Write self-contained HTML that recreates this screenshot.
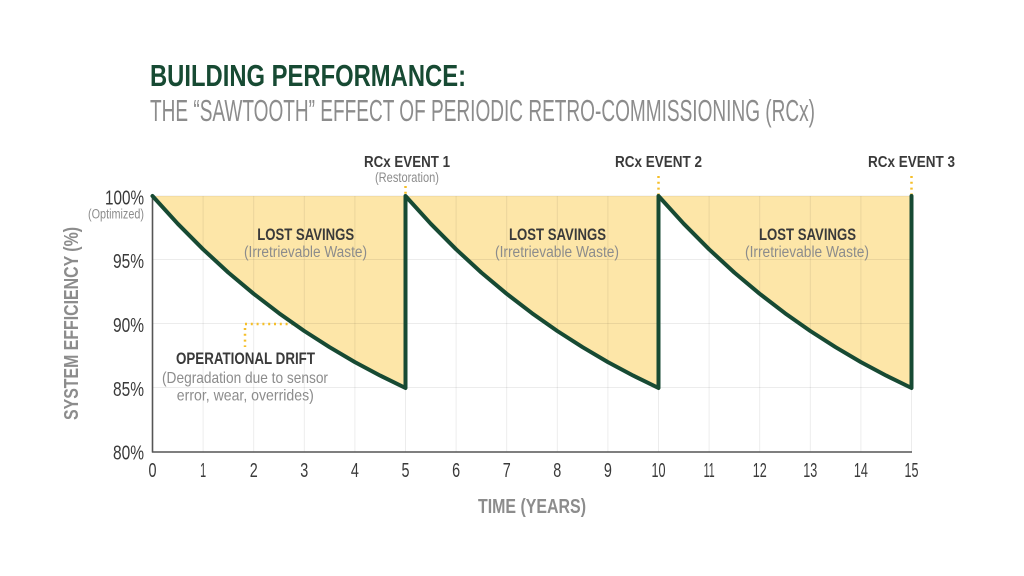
<!DOCTYPE html>
<html>
<head>
<meta charset="utf-8">
<style>
html,body{margin:0;padding:0;background:#ffffff;}
svg{display:block;}
text{font-family:"Liberation Sans Narrow","Liberation Sans",sans-serif;}
</style>
</head>
<body>
<svg width="1024" height="576" viewBox="0 0 1024 576" xmlns="http://www.w3.org/2000/svg">
<rect width="1024" height="576" fill="#ffffff"/>

<!-- Title -->
<text x="150" y="86" font-size="31" font-weight="bold" fill="#174a33" textLength="316" lengthAdjust="spacingAndGlyphs">BUILDING PERFORMANCE:</text>
<text x="150" y="121" font-size="31" fill="#8c8c8c" textLength="665" lengthAdjust="spacingAndGlyphs">THE “SAWTOOTH” EFFECT OF PERIODIC RETRO-COMMISSIONING (RCx)</text>

<!-- Fill areas -->
<g fill="#fde6a8">
<polygon points="152.5,196 405.5,196 405.5,388 380.2,375.6 354.9,362.1 329.6,347.2 304.3,331 279,313.2 253.7,293.8 228.4,272.6 203.1,249.3 177.8,223.8"/>
<polygon points="405.5,196 658.5,196 658.5,388 633.2,375.6 607.9,362.1 582.6,347.2 557.3,331 532,313.2 506.7,293.8 481.4,272.6 456.1,249.3 430.8,223.8"/>
<polygon points="658.5,196 911.5,196 911.5,388 886.2,375.6 860.9,362.1 835.6,347.2 810.3,331 785,313.2 759.7,293.8 734.4,272.6 709.1,249.3 683.8,223.8"/>
</g>

<!-- Gridlines -->
<g stroke="#000000" stroke-opacity="0.075" stroke-width="1">
<line x1="203.1" y1="196" x2="203.1" y2="452"/>
<line x1="253.7" y1="196" x2="253.7" y2="452"/>
<line x1="304.3" y1="196" x2="304.3" y2="452"/>
<line x1="354.9" y1="196" x2="354.9" y2="452"/>
<line x1="405.5" y1="196" x2="405.5" y2="452"/>
<line x1="456.1" y1="196" x2="456.1" y2="452"/>
<line x1="506.7" y1="196" x2="506.7" y2="452"/>
<line x1="557.3" y1="196" x2="557.3" y2="452"/>
<line x1="607.9" y1="196" x2="607.9" y2="452"/>
<line x1="658.5" y1="196" x2="658.5" y2="452"/>
<line x1="709.1" y1="196" x2="709.1" y2="452"/>
<line x1="759.7" y1="196" x2="759.7" y2="452"/>
<line x1="810.3" y1="196" x2="810.3" y2="452"/>
<line x1="860.9" y1="196" x2="860.9" y2="452"/>
<line x1="911.5" y1="196" x2="911.5" y2="452"/>
<line x1="152.5" y1="196" x2="911.5" y2="196"/>
<line x1="152.5" y1="259.5" x2="911.5" y2="259.5"/>
<line x1="152.5" y1="323.5" x2="911.5" y2="323.5"/>
<line x1="152.5" y1="387.5" x2="911.5" y2="387.5"/>
</g>

<!-- Axes -->
<line x1="152.5" y1="196" x2="152.5" y2="452.5" stroke="#555555" stroke-width="1.6"/>
<line x1="152" y1="452" x2="912" y2="452" stroke="#555555" stroke-width="1.6"/>

<!-- Dotted gold annotations -->
<g stroke="#f5bf2a" stroke-width="2.5" stroke-dasharray="2 3.8" fill="none">
<line x1="405.5" y1="186" x2="405.5" y2="195"/>
<line x1="658.5" y1="176" x2="658.5" y2="195"/>
<line x1="911.5" y1="176" x2="911.5" y2="195"/>
<line x1="245" y1="324" x2="296" y2="324"/>
<line x1="245" y1="328" x2="245" y2="347"/>
</g>

<!-- Sawtooth line -->
<polyline fill="none" stroke="#174a33" stroke-width="4" stroke-linejoin="round" stroke-linecap="round"
points="152.5,196 177.8,223.8 203.1,249.3 228.4,272.6 253.7,293.8 279,313.2 304.3,331 329.6,347.2 354.9,362.1 380.2,375.6 405.5,388 405.5,196 430.8,223.8 456.1,249.3 481.4,272.6 506.7,293.8 532,313.2 557.3,331 582.6,347.2 607.9,362.1 633.2,375.6 658.5,388 658.5,196 683.8,223.8 709.1,249.3 734.4,272.6 759.7,293.8 785,313.2 810.3,331 835.6,347.2 860.9,362.1 886.2,375.6 911.5,388 911.5,196"/>

<!-- Y tick labels -->
<g font-size="20" fill="#3a3a3a" text-anchor="end">
<text x="144" y="204.5" textLength="39" lengthAdjust="spacingAndGlyphs">100%</text>
<text x="144" y="268" textLength="31" lengthAdjust="spacingAndGlyphs">95%</text>
<text x="144" y="332" textLength="31" lengthAdjust="spacingAndGlyphs">90%</text>
<text x="144" y="396" textLength="31" lengthAdjust="spacingAndGlyphs">85%</text>
<text x="144" y="459.5" textLength="31" lengthAdjust="spacingAndGlyphs">80%</text>
</g>
<text x="144" y="218.5" font-size="13.5" fill="#8c8c8c" text-anchor="end" textLength="56" lengthAdjust="spacingAndGlyphs">(Optimized)</text>

<!-- X tick labels -->
<g font-size="20" fill="#3a3a3a" text-anchor="middle">
<text x="152.5" y="477" textLength="8" lengthAdjust="spacingAndGlyphs">0</text>
<text x="203.1" y="477" textLength="6" lengthAdjust="spacingAndGlyphs">1</text>
<text x="253.7" y="477" textLength="8" lengthAdjust="spacingAndGlyphs">2</text>
<text x="304.3" y="477" textLength="8" lengthAdjust="spacingAndGlyphs">3</text>
<text x="354.9" y="477" textLength="8" lengthAdjust="spacingAndGlyphs">4</text>
<text x="405.5" y="477" textLength="8" lengthAdjust="spacingAndGlyphs">5</text>
<text x="456.1" y="477" textLength="8" lengthAdjust="spacingAndGlyphs">6</text>
<text x="506.7" y="477" textLength="8" lengthAdjust="spacingAndGlyphs">7</text>
<text x="557.3" y="477" textLength="8" lengthAdjust="spacingAndGlyphs">8</text>
<text x="607.9" y="477" textLength="8" lengthAdjust="spacingAndGlyphs">9</text>
<text x="658.5" y="477" textLength="14" lengthAdjust="spacingAndGlyphs">10</text>
<text x="709.1" y="477" textLength="11" lengthAdjust="spacingAndGlyphs">11</text>
<text x="759.7" y="477" textLength="14" lengthAdjust="spacingAndGlyphs">12</text>
<text x="810.3" y="477" textLength="14" lengthAdjust="spacingAndGlyphs">13</text>
<text x="860.9" y="477" textLength="14" lengthAdjust="spacingAndGlyphs">14</text>
<text x="911.5" y="477" textLength="14" lengthAdjust="spacingAndGlyphs">15</text>
</g>

<!-- Axis titles -->
<text x="532" y="513" font-size="20" font-weight="bold" fill="#8c8c8c" text-anchor="middle" textLength="108" lengthAdjust="spacingAndGlyphs">TIME (YEARS)</text>
<text transform="translate(78,323.5) rotate(-90)" x="0" y="0" font-size="20" font-weight="bold" fill="#8c8c8c" text-anchor="middle" textLength="193" lengthAdjust="spacingAndGlyphs">SYSTEM EFFICIENCY (%)</text>

<!-- Event labels -->
<g font-size="15.5" font-weight="bold" fill="#3a3a3a" text-anchor="middle">
<text x="407" y="167" textLength="86" lengthAdjust="spacingAndGlyphs">RCx EVENT 1</text>
<text x="658.5" y="167" textLength="87" lengthAdjust="spacingAndGlyphs">RCx EVENT 2</text>
<text x="911.5" y="167" textLength="87" lengthAdjust="spacingAndGlyphs">RCx EVENT 3</text>
</g>
<text x="407" y="182" font-size="13.5" fill="#8c8c8c" text-anchor="middle" textLength="64" lengthAdjust="spacingAndGlyphs">(Restoration)</text>

<!-- Lost savings labels -->
<g font-size="17" font-weight="bold" fill="#3a3a3a" text-anchor="middle">
<text x="305.7" y="240" textLength="97" lengthAdjust="spacingAndGlyphs">LOST SAVINGS</text>
<text x="557.5" y="240" textLength="97" lengthAdjust="spacingAndGlyphs">LOST SAVINGS</text>
<text x="807.5" y="240" textLength="97" lengthAdjust="spacingAndGlyphs">LOST SAVINGS</text>
</g>
<g font-size="15.5" fill="#8c8c8c" text-anchor="middle">
<text x="305.5" y="257" textLength="123" lengthAdjust="spacingAndGlyphs">(Irretrievable Waste)</text>
<text x="557" y="257" textLength="124" lengthAdjust="spacingAndGlyphs">(Irretrievable Waste)</text>
<text x="807" y="257" textLength="124" lengthAdjust="spacingAndGlyphs">(Irretrievable Waste)</text>
</g>

<!-- Operational drift -->
<text x="245.5" y="364" font-size="16.5" font-weight="bold" fill="#3a3a3a" text-anchor="middle" textLength="139" lengthAdjust="spacingAndGlyphs">OPERATIONAL DRIFT</text>
<text x="245" y="383" font-size="16" fill="#8c8c8c" text-anchor="middle" textLength="166" lengthAdjust="spacingAndGlyphs">(Degradation due to sensor</text>
<text x="245.3" y="400.5" font-size="16" fill="#8c8c8c" text-anchor="middle" textLength="137" lengthAdjust="spacingAndGlyphs">error, wear, overrides)</text>
</svg>
</body>
</html>
